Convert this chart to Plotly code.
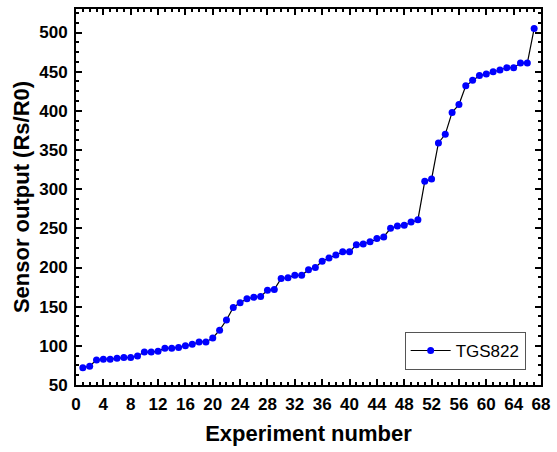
import plotly.graph_objects as go

experiment = list(range(1, 68))
tgs822 = [72, 74, 82, 83, 83, 84, 85, 85, 87, 92,
          92, 93, 97, 97, 98, 100, 102, 105, 105, 110,
          120, 133, 149, 155, 160, 162, 163, 171, 172, 186,
          187, 190, 190, 197, 200, 208, 212, 216, 220, 220,
          229, 230, 233, 237, 239, 250, 253, 254, 258, 261,
          310, 313, 359, 370, 398, 408, 432, 439, 445, 447,
          450, 452, 455, 455, 461, 461, 505]
x_ticks = list(range(0, 69, 4))
y_ticks = list(range(50, 501, 50))

FONT = "Liberation Sans, Arial, sans-serif"

fig = go.Figure()
fig.add_trace(go.Scatter(
    x=experiment, y=tgs822, mode="lines+markers", name="TGS822",
    line=dict(color="black", width=1.2),
    marker=dict(color="#0000FF", size=7, line=dict(width=0)),
))

axis_common = dict(
    showline=True, linecolor="black", linewidth=2, mirror="ticks",
    ticks="inside", ticklen=6, tickwidth=2, tickcolor="black",
    showgrid=False, zeroline=False,
    tickfont=dict(family=FONT, size=17, color="black", weight="bold"),
)

fig.update_xaxes(
    range=[0, 68], tickvals=x_ticks, ticktext=[str(v) for v in x_ticks],
    minor=dict(dtick=1, tick0=0, ticks="inside", ticklen=3, tickwidth=1.5, tickcolor="black"),
    ticklabelstandoff=3,
    title=dict(text="Experiment number", font=dict(family=FONT, size=22, color="black", weight="bold"), standoff=12),
    **axis_common,
)
fig.update_yaxes(
    range=[50, 530], tickvals=y_ticks, ticktext=[str(v) for v in y_ticks],
    minor=dict(dtick=12.5, tick0=50, ticks="inside", ticklen=3, tickwidth=1.5, tickcolor="black"),
    ticklabelstandoff=3,
    title=dict(text="Sensor output (Rs/R0)", font=dict(family=FONT, size=22, color="black", weight="bold"), standoff=4),
    **axis_common,
)

fig.update_layout(
    width=557, height=452,
    margin=dict(l=76, r=14, t=7, b=67),
    plot_bgcolor="white", paper_bgcolor="white",
    showlegend=True,
    legend=dict(
        x=0.967, y=0.04, xanchor="right", yanchor="bottom",
        bgcolor="white", bordercolor="#555555", borderwidth=1,
        font=dict(family=FONT, size=17, color="black"),
        itemwidth=40, tracegroupgap=0,
    ),
)

fig.write_html("out.html")
